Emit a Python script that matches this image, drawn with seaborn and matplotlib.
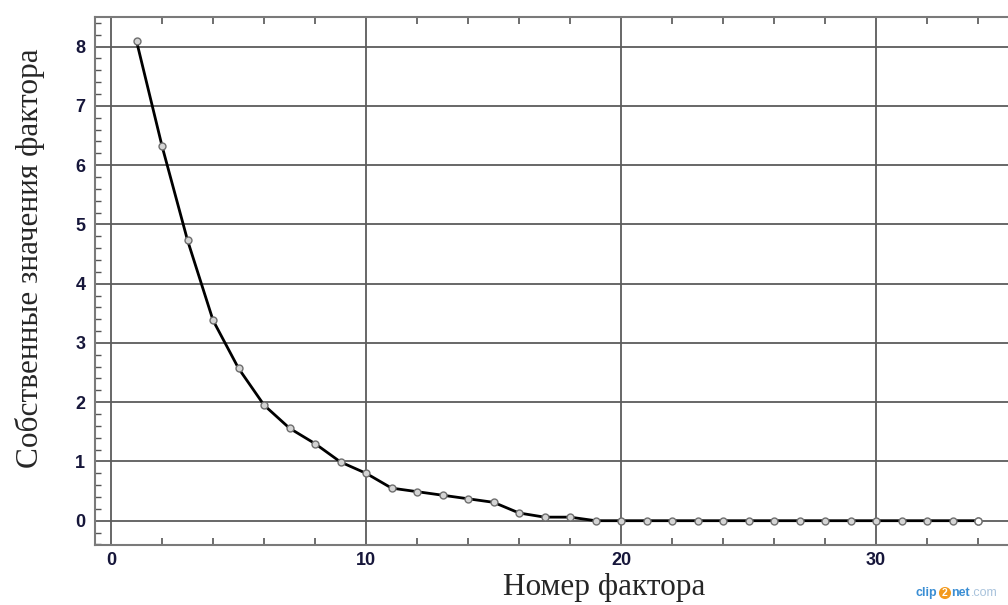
import matplotlib
matplotlib.use("Agg")
import matplotlib.pyplot as plt
from matplotlib.ticker import MultipleLocator, FixedLocator
import pandas as pd
import seaborn as sns

# Scree plot: eigenvalue of each factor
factor_number = list(range(1, 35))
eigenvalues = [8.09, 6.32, 4.73, 3.38, 2.57, 1.95, 1.56, 1.30, 0.99, 0.80,
               0.55, 0.49, 0.43, 0.37, 0.31, 0.13, 0.06, 0.06,
               0.0, 0.0, 0.0, 0.0, 0.0, 0.0, 0.0, 0.0,
               0.0, 0.0, 0.0, 0.0, 0.0, 0.0, 0.0, 0.0]
x_ticks = [0, 10, 20, 30]
y_ticks = [0, 1, 2, 3, 4, 5, 6, 7, 8]
x_label = "Номер фактора"
y_label = "Собственные значения фактора"

df = pd.DataFrame({"factor": factor_number, "eigenvalue": eigenvalues})

sns.set_style("white")
plt.rcParams["font.family"] = ["Liberation Sans", "DejaVu Sans"]

W, H = 1008, 605
fig = plt.figure(figsize=(W / 100, H / 100), dpi=100)
ax = fig.add_axes([95 / W, 60 / H, (W - 95) / W + 0.002, 528 / H])

sns.lineplot(data=df, x="factor", y="eigenvalue", ax=ax, color="black",
             linewidth=2.0, marker="o", markersize=5,
             markerfacecolor="#d4d4d4", markeredgecolor="#6e6e6e",
             markeredgewidth=1.0, zorder=3)
# the last factor is drawn with an open marker
sns.scatterplot(data=df.tail(1), x="factor", y="eigenvalue", ax=ax,
                s=26, color="white", edgecolor="#6e6e6e", linewidth=1.0,
                zorder=4)

ax.set_xlim(-0.63, 35.25)
ax.set_ylim(-0.41, 8.5)

ax.xaxis.set_major_locator(FixedLocator(x_ticks))
ax.yaxis.set_major_locator(FixedLocator(y_ticks))
ax.xaxis.set_minor_locator(MultipleLocator(2))
ax.yaxis.set_minor_locator(MultipleLocator(0.2))

ax.set_axisbelow(True)
ax.grid(True, which="major", color="#5c5c5c", linewidth=1.3)

ax.tick_params(which="major", length=0, labelsize=13, labelcolor="#16163a")
ax.tick_params(axis="x", which="major", pad=5)
ax.tick_params(axis="y", which="major", pad=7)
ax.tick_params(axis="x", which="minor", direction="in", top=True,
               bottom=True, length=5, width=1.2, color="#555555")
ax.tick_params(axis="y", which="minor", direction="in", left=True,
               right=False, length=4, width=1.0, color="#555555")
for lbl in ax.get_xticklabels() + ax.get_yticklabels():
    lbl.set_fontweight("bold")

for side in ["left", "top", "bottom"]:
    ax.spines[side].set_color("#7a7a7a")
    ax.spines[side].set_linewidth(1.5)
ax.spines["right"].set_visible(False)

serif = ["Liberation Serif", "DejaVu Serif"]
ax.set_xlabel(x_label, fontsize=22.5, family=serif)
ax.set_ylabel(y_label, fontsize=22.5, family=serif)
ax.xaxis.set_label_coords((603 - 95) / 913, (545 - 588) / 528)
ax.xaxis.label.set_va("center")
ax.yaxis.set_label_coords((30 - 95) / 913, (545 - 258) / 528)
ax.yaxis.label.set_va("center")

# screenshot-tool mark in the lower right corner
ymark = 1 - 593 / H
fig.text(916 / W, ymark, "clip", fontsize=9, fontweight="bold",
         color="#3a8ed4", va="center", ha="left")
fig.text(945 / W, ymark, "2", fontsize=7.5, fontweight="bold",
         color="white", va="center", ha="center",
         bbox=dict(boxstyle="circle,pad=0.1", fc="#f39a1e", ec="none"))
fig.text(951 / W, ymark, "net", fontsize=9, fontweight="bold",
         color="#3a8ed4", va="center", ha="left")
fig.text(971 / W, ymark, ".com", fontsize=9,
         color="#a9c3dc", va="center", ha="left")

fig.savefig("out.png", dpi=100)
